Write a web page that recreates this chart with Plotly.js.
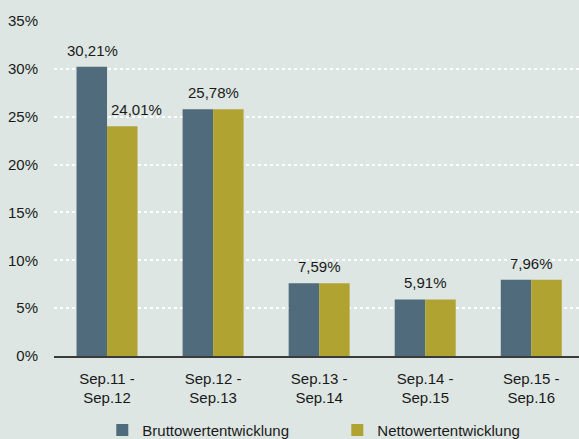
<!DOCTYPE html>
<html><head><meta charset="utf-8">
<script src="https://cdn.plot.ly/plotly-3.0.1.min.js"></script>
<style>html,body{margin:0;padding:0;background:#dde6e2}</style>
</head><body>
<div id="chart" style="width:579px;height:439px"></div>
<script>
const categories = ["Sep.11 -<br>Sep.12", "Sep.12 -<br>Sep.13", "Sep.13 -<br>Sep.14", "Sep.14 -<br>Sep.15", "Sep.15 -<br>Sep.16"];
const bruttoName = "Bruttowertentwicklung";
const nettoName = "Nettowertentwicklung";
const brutto = [30.21, 25.78, 7.59, 5.91, 7.96];
const netto = [24.01, 25.78, 7.59, 5.91, 7.96];
const yTicks = [0, 5, 10, 15, 20, 25, 30, 35];

const FONT = "'Liberation Sans', Arial, sans-serif";
const fmt = v => v.toFixed(2).replace('.', ',') + '%';

const annotations = [];
categories.forEach((c, i) => {
  if (brutto[i] === netto[i]) {
    annotations.push({x: c, y: brutto[i], text: fmt(brutto[i]), showarrow: false,
      xref: 'x', yref: 'y', yanchor: 'bottom', yshift: 6});
  } else {
    annotations.push({x: c, y: brutto[i], text: fmt(brutto[i]), showarrow: false,
      xref: 'x', yref: 'y', yanchor: 'bottom', yshift: 6, xshift: -15});
    annotations.push({x: c, y: netto[i], text: fmt(netto[i]), showarrow: false,
      xref: 'x', yref: 'y', yanchor: 'bottom', yshift: 6, xshift: 29});
  }
});

const data = [
  {type: 'bar', name: bruttoName, x: categories, y: brutto,
   marker: {color: '#4f6b7c'}, hoverinfo: 'skip'},
  {type: 'bar', name: nettoName, x: categories, y: netto,
   marker: {color: '#b0a332'}, hoverinfo: 'skip'}
];

const layout = {
  width: 579, height: 439,
  paper_bgcolor: '#dde6e2', plot_bgcolor: '#dde6e2',
  margin: {l: 54, r: 0, t: 21, b: 83, autoexpand: false},
  font: {family: FONT, size: 15, color: '#1a1a1a'},
  barmode: 'group', bargap: 0.425, bargroupgap: 0,
  xaxis: {type: 'category', range: [-0.5, 4.45], showgrid: false, zeroline: false,
    showline: true, linecolor: '#3a3a3a', linewidth: 1.5, ticks: '', ticklabelstandoff: 8,
    tickfont: {size: 15}},
  yaxis: {range: [0, 35], tickvals: yTicks, ticktext: yTicks.map(v => v + '%'),
    showgrid: true, gridcolor: '#ffffff', griddash: 'dot', gridwidth: 2,
    zeroline: false, showline: false, ticks: '', ticklabelstandoff: 15, tickfont: {size: 15}},
  showlegend: true,
  legend: {orientation: 'h', x: 0.092, xanchor: 'left', y: -0.222, yanchor: 'middle',
    font: {size: 15}, entrywidth: 190, itemwidth: 30, bgcolor: 'rgba(0,0,0,0)'},
  annotations: annotations
};

Plotly.newPlot('chart', data, layout, {staticPlot: true, displayModeBar: false});
</script>
</body></html>
